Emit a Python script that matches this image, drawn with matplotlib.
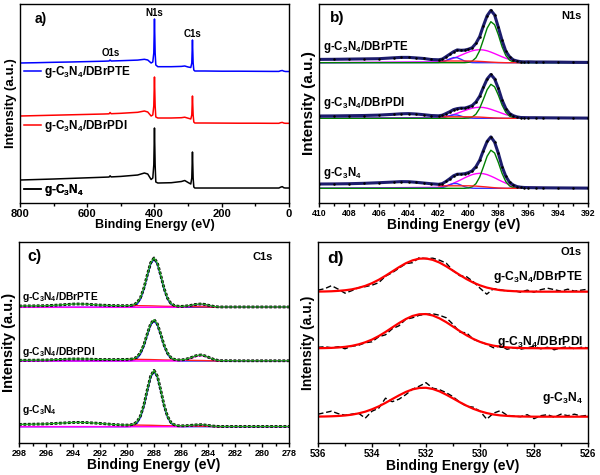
import numpy as np
import matplotlib
matplotlib.use('Agg')
import matplotlib.pyplot as plt
from matplotlib.ticker import MultipleLocator

plt.rcParams['font.family'] = 'Liberation Sans'
plt.rcParams['font.weight'] = 'bold'
plt.rcParams['axes.labelweight'] = 'bold'
plt.rcParams['mathtext.fontset'] = 'custom'
plt.rcParams['mathtext.rm'] = 'Liberation Sans:bold'
plt.rcParams['mathtext.bf'] = 'Liberation Sans:bold'
plt.rcParams['mathtext.default'] = 'bf'

labels = ['g-C$_3$N$_4$/DBrPTE', 'g-C$_3$N$_4$/DBrPDI', 'g-C$_3$N$_4$']

# ---- a) survey ----
x_survey = [800, 750, 700, 650, 600, 550, 535, 532, 529, 500, 450, 430, 420, 410, 405, 402, 400, 398, 396, 390,
            350, 320, 310, 300, 292, 289, 287, 285, 283, 280, 250, 200, 150, 100, 50, 30, 25, 20, 15, 10, 0]
survey_pte = [140.0, 140.3, 140.7, 141.0, 141.4, 141.8, 142.0, 143.0, 142.0, 142.3, 142.9, 143.7, 143.0, 140.0,
              141.0, 150.0, 184.0, 150.0, 138.0, 136.3, 136.3, 136.6, 137.0, 136.0, 135.5, 140.0, 163.0, 140.0,
              133.0, 132.0, 132.0, 131.8, 131.8, 131.7, 131.6, 131.6, 132.2, 132.5, 131.8, 131.5, 131.5]
survey_pdi = [87.0, 87.4, 87.8, 88.2, 88.6, 89.0, 89.2, 90.5, 89.3, 89.7, 90.7, 92.0, 91.0, 87.0, 88.0, 97.0,
              126.0, 97.0, 86.0, 85.0, 85.0, 85.3, 85.8, 84.8, 84.0, 88.0, 107.0, 88.0, 81.0, 80.0, 80.0, 79.9,
              79.8, 79.8, 79.7, 79.7, 80.3, 80.6, 79.9, 79.7, 79.7]
survey_cn = [23.0, 23.5, 24.0, 24.6, 25.2, 25.8, 26.0, 27.2, 26.1, 26.6, 28.0, 30.0, 29.0, 23.5, 25.0, 38.0,
             75.0, 38.0, 21.0, 20.0, 20.3, 21.5, 22.5, 20.5, 19.0, 25.0, 51.0, 25.0, 16.0, 15.0, 15.0, 15.0,
             15.0, 15.0, 15.0, 15.0, 15.8, 16.4, 15.2, 15.0, 15.0]

# ---- b) N1s ----
xb_raw = [410, 409, 408, 407, 406, 405, 404.5, 404, 403.5, 403, 402.5,
          402, 401.75, 401.5, 401.25, 401, 400.75, 400.5, 400.25, 400, 399.75, 399.5, 399.25, 399,
          398.75, 398.5, 398.25, 398, 397.75, 397.5, 397.25, 397, 396.75, 396.5,
          396.25, 396, 395.5, 395, 394, 393, 392]
xb_fit = [410, 402, 401.75, 401.5, 401.25, 401, 400.75, 400.5, 400.25, 400, 399.75, 399.5, 399.25, 399,
          398.75, 398.5, 398.25, 398, 397.75, 397.5, 397.25, 397, 396.75, 396.5, 392]

n1s_raw_pte = [3.3, 3.4, 3.6, 3.8, 4.0, 4.9, 5.3, 5.3, 4.8, 4.2, 3.2,
               2.9, 3.6, 6.0, 8.5, 11.0, 12.8, 12.4, 12.6, 13.5, 15.0, 19.3, 26.0, 37.0, 47.0, 52.3, 47.8,
               35.4, 22.3, 11.4, 6.0, 2.8, 1.7, 1.0, 0.8, 0.9, 0.7, 0.7, 0.6, 0.4, 0.3]
n1s_raw_pdi = [2.3, 2.4, 2.6, 2.8, 3.2, 4.0, 4.5, 4.7, 4.3, 3.6, 2.8,
               2.5, 3.1, 4.8, 6.6, 8.7, 9.7, 10.2, 10.2, 11.3, 12.8, 16.3, 22.0, 31.0, 39.3, 43.8, 39.4,
               30.0, 18.2, 9.8, 4.8, 2.6, 1.4, 0.8, 0.7, 0.6, 0.6, 0.5, 0.4, 0.3, 0.2]
n1s_raw_cn = [4.3, 4.4, 4.6, 5.0, 5.6, 6.3, 6.7, 6.6, 6.0, 5.3, 4.6,
              4.0, 4.7, 6.9, 9.6, 12.5, 14.1, 14.2, 14.6, 15.7, 17.5, 21.6, 28.0, 37.8, 46.9, 51.4, 46.2,
              35.0, 21.7, 12.0, 6.0, 3.3, 1.7, 1.1, 0.8, 0.7, 0.6, 0.5, 0.4, 0.3, 0.2]

n1s_green_pte = [0, 0, 0, 0, 0, 0, 0, 0, 0, 0.4, 1.6, 4.9, 12.0, 23.0, 34.5, 41.0, 38.0, 28.0, 16.0, 7.2, 2.6, 0.7, 0.2, 0, 0]
n1s_mag_pte = [0, 0.9, 1.4, 2.2, 3.2, 4.4, 5.9, 7.5, 9.1, 10.6, 11.9, 12.7, 13.0, 12.7, 11.9, 10.6, 9.1, 7.5, 5.9, 4.4, 3.2, 2.2, 1.4, 0.9, 0]
n1s_blue_pte = [0, 0.2, 0.7, 2.0, 3.8, 5.1, 5.0, 3.4, 1.6, 0.6, 0.1, 0, 0, 0, 0, 0, 0, 0, 0, 0, 0, 0, 0, 0, 0]
n1s_bg_pte = [1.7, 1.7, 1.7, 1.7, 1.7, 1.7, 1.7, 1.7, 1.7, 1.6, 1.5, 1.3, 1.1, 0.85, 0.6, 0.4, 0.2, 0.1, 0, 0, 0, 0, 0]

n1s_green_pdi = [0, 0, 0, 0, 0, 0, 0, 0, 0, 0.3, 1.3, 4.1, 10.0, 19.0, 28.6, 34.0, 31.5, 23.2, 13.3, 6.0, 2.2, 0.6, 0.2, 0, 0]
n1s_mag_pdi = [0, 0.8, 1.2, 1.9, 2.7, 3.7, 5.0, 6.4, 7.7, 9.0, 10.1, 10.8, 11.0, 10.8, 10.1, 9.0, 7.7, 6.4, 5.0, 3.7, 2.7, 1.9, 1.2, 0.8, 0]
n1s_blue_pdi = [0, 0.1, 0.5, 1.3, 2.5, 3.4, 3.3, 2.2, 1.1, 0.4, 0.1, 0, 0, 0, 0, 0, 0, 0, 0, 0, 0, 0, 0, 0, 0]
n1s_bg_pdi = [1.5, 1.5, 1.5, 1.5, 1.5, 1.5, 1.5, 1.5, 1.5, 1.4, 1.3, 1.2, 1.0, 0.75, 0.55, 0.35, 0.2, 0.1, 0, 0, 0, 0, 0]

n1s_green_cn = [0, 0, 0, 0, 0, 0, 0, 0, 0, 0.4, 1.5, 4.6, 11.2, 21.4, 32.1, 38.1, 35.3, 25.9, 14.9, 6.7, 2.4, 0.7, 0.2, 0, 0]
n1s_mag_cn = [0, 1.0, 1.6, 2.5, 3.7, 5.1, 6.8, 8.6, 10.5, 12.2, 13.7, 14.6, 15.0, 14.6, 13.7, 12.2, 10.5, 8.6, 6.8, 5.1, 3.7, 2.5, 1.6, 1.0, 0]
n1s_blue_cn = [0, 0.2, 0.7, 1.8, 3.6, 4.8, 4.7, 3.2, 1.5, 0.5, 0.1, 0, 0, 0, 0, 0, 0, 0, 0, 0, 0, 0, 0, 0, 0]
n1s_bg_cn = [2.5, 2.5, 2.5, 2.5, 2.5, 2.5, 2.5, 2.5, 2.5, 2.4, 2.2, 1.9, 1.6, 1.3, 0.9, 0.6, 0.3, 0.15, 0, 0, 0, 0, 0]

# ---- c) C1s ----
xc_raw = [298, 297, 296, 295, 294, 293.5, 293, 292, 291, 290.5,
          290, 289.75, 289.5, 289.25, 289, 288.75, 288.5, 288.25, 288, 287.75, 287.5, 287.25, 287,
          286.75, 286.5, 286.25, 286, 285.75, 285.5, 285.25, 285, 284.75, 284.5, 284.25, 284, 283.75,
          283.5, 283.25, 283, 282.5, 282, 281, 280, 279, 278]
xc_fit = [298, 290, 289.75, 289.5, 289.25, 289, 288.75, 288.5, 288.25, 288, 287.75, 287.5, 287.25, 287,
          286.75, 286.5, 286.25, 286, 285.75, 285.5, 285.25, 285, 284.75, 284.5, 284.25, 284, 283.75,
          283.5, 283.25, 283, 278]

c1s_raw_pte = [1.3, 1.4, 1.6, 2.3, 3.2, 3.3, 3.1, 2.2, 1.7, 1.6,
               1.6, 1.8, 2.5, 4.6, 9.7, 19.2, 32.3, 44.4, 49.3, 44.2, 31.9, 18.7, 9.1, 3.9, 1.8, 1.1, 0.9,
               1.1, 1.5, 2.0, 2.7, 3.1, 3.3, 2.9, 2.1, 1.4, 0.7, 0.4, 0.3, 0.3, 0.3, 0.3, 0.3, 0.3, 0.3]
c1s_raw_pdi = [0.7, 0.8, 1.0, 1.5, 2.0, 2.0, 1.9, 1.5, 1.4, 1.5,
               1.6, 1.8, 2.3, 4.1, 8.4, 16.2, 27.1, 37.2, 41.3, 37.0, 26.7, 15.7, 7.8, 3.4, 1.6, 1.1, 1.1,
               1.4, 2.3, 3.4, 4.8, 5.7, 6.0, 5.2, 3.9, 2.5, 1.3, 0.6, 0.3, 0.3, 0.2, 0.2, 0.2, 0.2, 0.2]
c1s_raw_cn = [2.3, 2.5, 2.8, 3.5, 4.2, 4.3, 4.1, 3.3, 2.2, 1.8,
              1.6, 1.8, 2.6, 5.0, 10.9, 21.7, 36.8, 50.6, 56.3, 50.4, 36.4, 21.2, 10.3, 4.3, 1.9, 1.0, 0.9,
              0.9, 1.1, 1.4, 1.7, 1.9, 2.0, 1.7, 1.3, 0.8, 0.5, 0.3, 0.2, 0.2, 0.2, 0.2, 0.2, 0.2, 0.2]

c1s_blue_pte = [0, 0, 0.2, 0.9, 3.0, 8.1, 17.7, 30.8, 43.0, 48.0, 43.0, 30.8, 17.7, 8.1, 3.0, 0.9, 0.2,
                0, 0, 0, 0, 0, 0, 0, 0, 0, 0, 0, 0, 0, 0]
c1s_blue_pdi = [0, 0, 0.2, 0.7, 2.5, 6.8, 14.7, 25.6, 35.8, 40.0, 35.8, 25.6, 14.7, 6.8, 2.5, 0.7, 0.2,
                0, 0, 0, 0, 0, 0, 0, 0, 0, 0, 0, 0, 0, 0]
c1s_blue_cn = [0, 0, 0.2, 1.0, 3.4, 9.3, 20.2, 35.3, 49.2, 55.0, 49.2, 35.3, 20.2, 9.3, 3.4, 1.0, 0.2,
               0, 0, 0, 0, 0, 0, 0, 0, 0, 0, 0, 0, 0, 0]
c1s_mag_pte = [0, 0, 0, 0, 0, 0, 0, 0, 0, 0, 0, 0, 0, 0, 0,
               0, 0.05, 0.15, 0.4, 0.8, 1.4, 2.1, 2.6, 2.8, 2.5, 1.8, 1.2, 0.6, 0.3, 0.1, 0]
c1s_mag_pdi = [0, 0, 0, 0, 0, 0, 0, 0, 0, 0, 0, 0, 0, 0, 0,
               0, 0.1, 0.3, 0.7, 1.6, 2.8, 4.2, 5.2, 5.5, 4.8, 3.6, 2.3, 1.2, 0.5, 0.2, 0]
c1s_mag_cn = [0, 0, 0, 0, 0, 0, 0, 0, 0, 0, 0, 0, 0, 0, 0,
              0, 0, 0.1, 0.2, 0.4, 0.8, 1.1, 1.4, 1.5, 1.3, 1.0, 0.6, 0.3, 0.1, 0.05, 0]
c1s_bg = [1.6, 1.6, 1.6, 1.6, 1.55, 1.5, 1.45, 1.4, 1.3, 1.2, 1.1, 1.0, 0.95, 0.9, 0.85, 0.8, 0.75,
          0.7, 0.65, 0.6, 0.55, 0.5, 0.45, 0.4, 0.3, 0.2, 0.1, 0.05, 0]

# ---- d) O1s ----
xd = [536, 535.75, 535.5, 535.25, 535, 534.75, 534.5, 534.25, 534, 533.75, 533.5, 533.25, 533, 532.75,
      532.5, 532.25, 532, 531.75, 531.5, 531.25, 531, 530.75, 530.5, 530.25, 530, 529.75, 529.5, 529.25,
      529, 528.75, 528.5, 528.25, 528, 527.75, 527.5, 527.25, 527, 526.75, 526.5, 526.25, 526]
o1s_raw_pte = [1.5, 3.0, 6.0, 2.5, -1.5, 1.0, 4.0, 5.0, 6.5, 9.0, 15.5, 19.0, 23.5, 28.0, 29.0, 34.0, 33.0,
               33.5, 31.5, 28.5, 21.0, 16.0, 15.0, 10.0, 3.5, -2.5, 3.0, 2.0, 0.5, 1.0, -0.5, 1.5, -0.5,
               2.0, 3.5, 2.0, 0.5, 2.5, 0.5, 1.5, 2.5]
o1s_raw_pdi = [1.0, 1.5, 0.5, 1.5, -0.5, 2.0, 3.0, 5.5, 6.5, 11.5, 13.5, 19.5, 22.5, 29.0, 30.5, 33.0, 34.0,
               34.5, 33.0, 30.5, 24.0, 16.0, 15.5, 9.0, 6.5, 4.0, 0.5, 2.5, -1.0, 0.5, -1.0, 0.5, 2.0,
               -0.5, 1.0, -1.5, 0.5, 1.5, -0.5, 1.0, 0.5]
o1s_raw_cn = [2.5, 4.0, 5.5, 3.0, 1.5, 2.5, 3.5, -1.5, 5.5, 8.5, 18.5, 15.0, 17.5, 22.0, 27.5, 30.5, 34.0,
              28.5, 27.0, 24.0, 20.0, 14.5, 10.5, 9.5, 5.5, -2.5, 3.5, 6.0, 1.5, 0.5, 0.0, 2.0, -2.0,
              1.0, 2.0, -0.5, 2.5, 1.0, 2.5, 0.5, 1.5]
o1s_fit_pte = [0.1, 0.2, 0.4, 0.8, 1.4, 2.3, 3.8, 5.8, 8.5, 11.9, 15.9, 20.2, 24.5, 28.4, 31.3, 33.0, 33.2,
               31.8, 29.1, 25.3, 21.0, 16.7, 12.6, 9.1, 6.3, 4.1, 2.6, 1.5, 0.9, 0.5, 0.2, 0.1, 0.1,
               0, 0, 0, 0, 0, 0, 0, 0]
o1s_fit_pdi = [0.1, 0.2, 0.4, 0.8, 1.4, 2.4, 3.9, 6.0, 8.7, 12.2, 16.3, 20.8, 25.2, 29.2, 32.3, 34.0, 34.2,
               32.8, 29.9, 26.1, 21.7, 17.2, 13.0, 9.4, 6.4, 4.2, 2.6, 1.6, 0.9, 0.5, 0.3, 0.1, 0.1,
               0, 0, 0, 0, 0, 0, 0, 0]
o1s_fit_cn = [0.1, 0.2, 0.4, 0.7, 1.2, 2.0, 3.3, 5.0, 7.4, 10.3, 13.8, 17.6, 21.3, 24.7, 27.3, 28.7, 28.9,
              27.7, 25.3, 22.0, 18.3, 14.5, 11.0, 7.9, 5.5, 3.6, 2.2, 1.3, 0.8, 0.4, 0.2, 0.1, 0.0,
              0, 0, 0, 0, 0, 0, 0, 0]

# vertical stacking offsets (top, middle, bottom)
off_b = [140.3, 84.7, 14.7]
off_c = [135.7, 82.0, 16.3]
off_d = [151.3, 94.7, 26.3]

fig = plt.figure(figsize=(6, 4.75), dpi=100)
ax_a = fig.add_axes([0.0333, 0.5726, 0.4483, 0.419])
ax_b = fig.add_axes([0.5317, 0.5726, 0.4483, 0.419])
ax_c = fig.add_axes([0.0317, 0.0674, 0.45, 0.4232])
ax_d = fig.add_axes([0.53, 0.0674, 0.45, 0.4232])


def style(ax, x0, x1, major, minor, tick_fs, xl_fs, yl_fs, ytop):
    ax.set_xlim(x0, x1)
    ax.set_ylim(0, ytop)
    ax.xaxis.set_major_locator(MultipleLocator(major))
    ax.xaxis.set_minor_locator(MultipleLocator(minor))
    ax.set_yticks([])
    ax.tick_params(axis='x', which='major', direction='out', length=3, width=1, labelsize=tick_fs, pad=1.5)
    ax.tick_params(axis='x', which='minor', direction='out', length=2, width=1)
    for s in ax.spines.values():
        s.set_linewidth(1.0)
    ax.set_xlabel('Binding Energy (eV)', fontsize=xl_fs, labelpad=0)
    ax.set_ylabel('Intensity (a.u.)', fontsize=yl_fs, labelpad=2)


# a)
ax = ax_a
ln1, = ax.plot(x_survey, survey_pte, color='#0000ff', lw=1.1)
ln2, = ax.plot(x_survey, survey_pdi, color='#ff0000', lw=1.1)
ln3, = ax.plot(x_survey, survey_cn, color='black', lw=1.1)
style(ax, 800, 0, 200, 100, 8, 9, 9.5, 199)
for ln, lab, yy in zip([ln1, ln2, ln3], labels, [0.658, 0.387, 0.065]):
    leg = ax.legend([ln], [lab], loc='center left', bbox_to_anchor=(0.015, yy), frameon=False,
                    handlelength=1.4, handletextpad=0.3, borderpad=0, borderaxespad=0, fontsize=8.5)
    ax.add_artist(leg)
ax.text(400, 190, 'N1s', ha='center', va='center', fontsize=7)
ax.text(288, 169, 'C1s', ha='center', va='center', fontsize=7)
ax.text(530, 150, 'O1s', ha='center', va='center', fontsize=7)
ax.text(0.056, 0.925, 'a)', transform=ax.transAxes, ha='left', va='center', fontsize=10)

# b)
ax = ax_b
b_sets = [(n1s_raw_pte, n1s_green_pte, n1s_mag_pte, n1s_blue_pte, n1s_bg_pte),
          (n1s_raw_pdi, n1s_green_pdi, n1s_mag_pdi, n1s_blue_pdi, n1s_bg_pdi),
          (n1s_raw_cn, n1s_green_cn, n1s_mag_cn, n1s_blue_cn, n1s_bg_cn)]
for off, (raw, g, m, bl, bg) in zip(off_b, b_sets):
    ax.plot(xb_fit, np.array(m) + off, color='#ff00ff', lw=1.0)
    ax.plot(xb_fit, np.array(bl) + off, color='#3333ff', lw=1.0)
    ax.plot(xb_fit, np.array(g) + off, color='#008000', lw=1.0)
    ax.plot(xb_fit[1:-1], np.array(bg) + off, color='#ff2020', lw=1.0)
    ax.plot(xb_raw, np.array(raw) + off, color='#1c1c6c', lw=2.2)
    ax.plot(xb_raw, np.array(raw) + off, 'k.', ms=1.6)
style(ax, 410, 392, 2, 1, 6.3, 10, 11, 199)
for lab, yy in zip(labels, [0.784, 0.503, 0.151]):
    ax.text(0.015, yy, lab, transform=ax.transAxes, ha='left', va='center', fontsize=8.3)
ax.text(0.978, 0.94, 'N1s', transform=ax.transAxes, ha='right', va='center', fontsize=8)
ax.text(0.041, 0.93, 'b)', transform=ax.transAxes, ha='left', va='center', fontsize=11)

# c)
ax = ax_c
c_sets = [(c1s_raw_pte, c1s_blue_pte, c1s_mag_pte),
          (c1s_raw_pdi, c1s_blue_pdi, c1s_mag_pdi),
          (c1s_raw_cn, c1s_blue_cn, c1s_mag_cn)]
for off, (raw, bl, m) in zip(off_c, c_sets):
    ax.plot(xc_fit, np.array(bl) + off, color='#2020ff', lw=1.0)
    ax.plot(xc_fit[1:-1], np.array(c1s_bg) + off, color='#ff2020', lw=1.0)
    ax.plot(xc_fit, np.array(m) + off, color='#ff00ff', lw=1.1)
    ax.plot(xc_raw, np.array(raw) + off, color='black', lw=2.0, ls=(0, (1, 0.6)))
    ax.plot(xc_raw, np.array(raw) + off, color='#22aa22', lw=0.9)
style(ax, 298, 278, 2, 1, 6.5, 10, 10.5, 201)
for lab, yy in zip(labels, [0.726, 0.453, 0.164]):
    ax.text(0.011, yy, lab, transform=ax.transAxes, ha='left', va='center', fontsize=7.4)
ax.text(0.94, 0.925, 'C1s', transform=ax.transAxes, ha='right', va='center', fontsize=8)
ax.text(0.03, 0.93, 'c)', transform=ax.transAxes, ha='left', va='center', fontsize=11.5)

# d)
ax = ax_d
d_sets = [(o1s_raw_pte, o1s_fit_pte), (o1s_raw_pdi, o1s_fit_pdi), (o1s_raw_cn, o1s_fit_cn)]
for off, (raw, fit) in zip(off_d, d_sets):
    ax.plot(xd, np.array(raw) + off, color='black', lw=1.0, ls=(0, (4, 2)))
    ax.plot(xd, np.array(fit) + off, color='#ff0000', lw=1.6)
style(ax, 536, 526, 2, 1, 7, 10, 10, 201)
for lab, yy in zip(labels, [0.826, 0.502, 0.224]):
    ax.text(0.981, yy, lab, transform=ax.transAxes, ha='right', va='center', fontsize=8.7)
ax.text(0.978, 0.95, 'O1s', transform=ax.transAxes, ha='right', va='center', fontsize=8)
ax.text(0.033, 0.92, 'd)', transform=ax.transAxes, ha='left', va='center', fontsize=12.5)

fig.savefig('out.png', dpi=100)
